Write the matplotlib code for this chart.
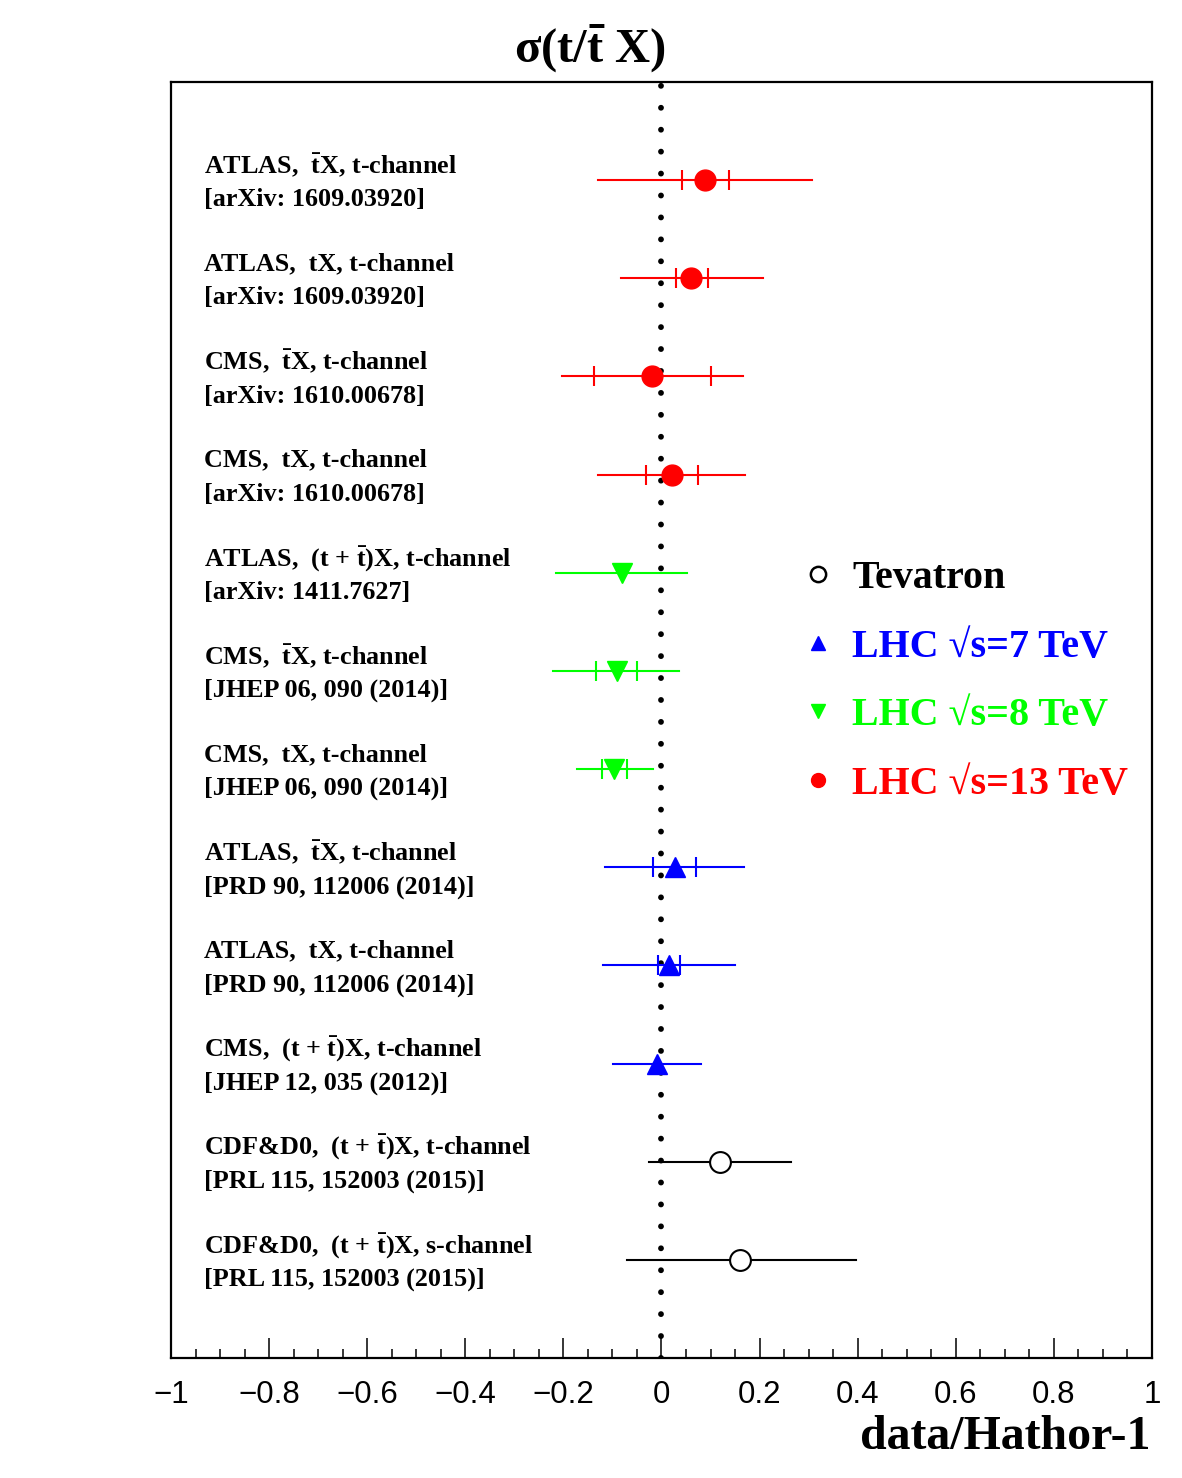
import numpy as np
import matplotlib
matplotlib.use('Agg')
import matplotlib.pyplot as plt
from matplotlib.lines import Line2D

plt.rcParams['font.family'] = ['Liberation Serif', 'DejaVu Serif']
plt.rcParams['mathtext.fontset'] = 'custom'
plt.rcParams['mathtext.rm'] = 'Liberation Serif:bold'
plt.rcParams['mathtext.it'] = 'Liberation Serif:bold'
plt.rcParams['mathtext.bf'] = 'Liberation Serif:bold'

TB = r'$\bar{t}$'

# measurements, top to bottom
line1 = ['ATLAS,  ' + TB + 'X, t-channel', 'ATLAS,  tX, t-channel',
         'CMS,  ' + TB + 'X, t-channel', 'CMS,  tX, t-channel',
         'ATLAS,  (t + ' + TB + ')X, t-channel', 'CMS,  ' + TB + 'X, t-channel',
         'CMS,  tX, t-channel', 'ATLAS,  ' + TB + 'X, t-channel',
         'ATLAS,  tX, t-channel', 'CMS,  (t + ' + TB + ')X, t-channel',
         'CDF&D0,  (t + ' + TB + ')X, t-channel', 'CDF&D0,  (t + ' + TB + ')X, s-channel']
line2 = ['[arXiv: 1609.03920]', '[arXiv: 1609.03920]',
         '[arXiv: 1610.00678]', '[arXiv: 1610.00678]',
         '[arXiv: 1411.7627]', '[JHEP 06, 090 (2014)]',
         '[JHEP 06, 090 (2014)]', '[PRD 90, 112006 (2014)]',
         '[PRD 90, 112006 (2014)]', '[JHEP 12, 035 (2012)]',
         '[PRL 115, 152003 (2015)]', '[PRL 115, 152003 (2015)]']
group = ['13', '13', '13', '13', '8', '8', '8', '7', '7', '7', 'tev', 'tev']
central = [0.089, 0.060, -0.019, 0.021, -0.081, -0.091, -0.097,
           0.028, 0.016, -0.009, 0.119, 0.161]
tot_lo = [-0.129, -0.083, -0.203, -0.129, -0.215, -0.221, -0.173,
          -0.115, -0.119, -0.098, -0.025, -0.071]
tot_hi = [0.307, 0.207, 0.166, 0.170, 0.053, 0.036, -0.018,
          0.168, 0.150, 0.081, 0.263, 0.397]
stat_lo = [0.042, 0.029, -0.138, -0.032, np.nan, -0.134, -0.121,
           -0.017, -0.007, np.nan, np.nan, np.nan]
stat_hi = [0.138, 0.095, 0.101, 0.074, np.nan, -0.049, -0.071,
           0.070, 0.038, np.nan, np.nan, np.nan]

styles = {
    'tev': dict(color='black', marker='o', label='Tevatron'),
    '7': dict(color='#0000ff', marker='^', label='LHC \u221as=7 TeV'),
    '8': dict(color='#00ff00', marker='v', label='LHC \u221as=8 TeV'),
    '13': dict(color='#ff0000', marker='o', label='LHC \u221as=13 TeV'),
}
legend_order = ['tev', '7', '8', '13']

fig = plt.figure(figsize=(11.82, 14.78), dpi=100)
ax = fig.add_axes([171/1182, 120/1478, 981/1182, 1276/1478])

ax.axvline(0, color='black', lw=4.2, ls=(0, (0.01, 3.75)),
           dash_capstyle='round', zorder=1)

for i in range(len(central)):
    st = styles[group[i]]
    c = st['color']
    ax.plot([tot_lo[i], tot_hi[i]], [i, i], color=c, lw=1.5, zorder=2)
    if not np.isnan(stat_lo[i]):
        ax.plot([stat_lo[i], stat_hi[i]], [i, i], ls='none', marker='|',
                ms=14, mew=1.5, color=c, zorder=2)
    if group[i] == 'tev':
        ax.plot(central[i], i, marker='o', ms=15, mfc='white', mec='black',
                mew=1.5, zorder=3)
    else:
        ax.plot(central[i], i, marker=st['marker'], ms=15, color=c,
                mec=c, zorder=3)
    ax.text(-0.932, i - 0.15, line1[i], fontsize=18.8, fontweight='bold',
            va='center', ha='left')
    ax.text(-0.932, i + 0.20, line2[i], fontsize=18.8, fontweight='bold',
            va='center', ha='left')

ax.set_xlim(-1, 1)
ax.set_ylim(12, -1)
ax.set_yticks([])
xt = [-1, -0.8, -0.6, -0.4, -0.2, 0, 0.2, 0.4, 0.6, 0.8, 1]
xt_labels = ['\u22121', '\u22120.8', '\u22120.6', '\u22120.4', '\u22120.2',
             '0', '0.2', '0.4', '0.6', '0.8', '1']
ax.set_xticks(xt)
ax.set_xticklabels(xt_labels, family='Liberation Sans', fontsize=22.5)
ax.set_xticks(np.arange(-1, 1.001, 0.05), minor=True)
ax.tick_params(axis='x', which='major', direction='in', length=14.4,
               width=1.1, pad=16)
ax.tick_params(axis='x', which='minor', direction='in', length=6.5, width=1.1)
for s in ax.spines.values():
    s.set_linewidth(1.6)

handles = []
for g in legend_order:
    st = styles[g]
    if g == 'tev':
        h = Line2D([], [], ls='none', marker='o', ms=11, mfc='white',
                   mec='black', mew=1.8)
    else:
        h = Line2D([], [], ls='none', marker=st['marker'], ms=10,
                   color=st['color'])
    handles.append(h)
leg = ax.legend(handles, [styles[g]['label'] for g in legend_order],
                loc='upper left', bbox_to_anchor=((806 - 171) / 981, (1358 - 560) / 1276),
                frameon=False, prop=dict(family='Liberation Serif', weight='bold', size=28.8),
                handlelength=0.6, handletextpad=0.55, labelspacing=0.79,
                borderpad=0, borderaxespad=0)
for t, g in zip(leg.get_texts(), legend_order):
    t.set_color(styles[g]['color'])

fig.text(590/1182, 1 - 48/1478, r'$\sigma$(t/' + TB + ' X)', fontsize=35,
         fontweight='bold', ha='center', va='center')
ax.text(0.998, -0.062, 'data/Hathor-1', transform=ax.transAxes, fontsize=34.5,
        fontweight='bold', ha='right', va='center')

fig.savefig('out.png', dpi=100)
